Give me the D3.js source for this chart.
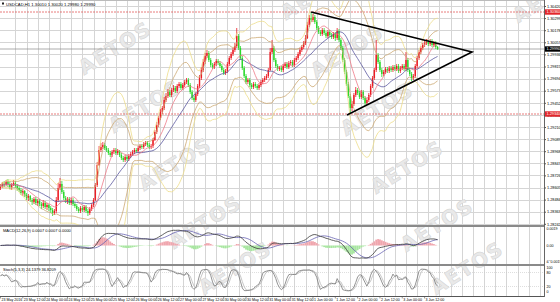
<html>
<head>
<script src="https://cdn.jsdelivr.net/npm/d3@7/dist/d3.min.js"></script>
<style>
  body { margin: 0; background: #ffffff; }
  svg { display: block; }
  text { font-family: "Liberation Sans", Arial, sans-serif; }
</style>
</head>
<body>
<svg id="chart"></svg>
<script>
// USDCAD H1 bars (open of a bar = close of the bar before)
let symbol = "USDCAD,H1"
let firstOpen = 1.2860
let closes = [
  1.2862,1.2864,1.2863,1.2866,1.2864,1.2861,1.2863,1.2865,1.2862,1.2860,
  1.2858,1.2855,1.2857,1.2853,1.2850,1.2852,1.2848,1.2846,1.2849,1.2845,
  1.2847,1.2844,1.2842,1.2845,1.2841,1.2843,1.2840,1.2838,1.2835,1.2837,
  1.2848,1.2860,1.2864,1.2856,1.2850,1.2847,1.2849,1.2845,1.2848,1.2844,
  1.2842,1.2839,1.2837,1.2840,1.2838,1.2841,1.2837,1.2835,1.2839,1.2843,
  1.2848,1.2863,1.2883,1.2898,1.2901,1.2903,1.2900,1.2898,1.2895,1.2893,
  1.2896,1.2898,1.2895,1.2897,1.2893,1.2890,1.2888,1.2891,1.2889,1.2892,
  1.2894,1.2896,1.2898,1.2897,1.2900,1.2902,1.2901,1.2904,1.2905,1.2903,
  1.2901,1.2902,1.2908,1.2916,1.2923,1.2930,1.2936,1.2940,1.2948,1.2952,
  1.2956,1.2953,1.2958,1.2960,1.2957,1.2962,1.2964,1.2960,1.2963,1.2966,
  1.2968,1.2963,1.2956,1.2950,1.2948,1.2954,1.2962,1.2970,1.2978,1.2986,
  1.2992,1.2995,1.2988,1.2983,1.2981,1.2984,1.2987,1.2985,1.2982,1.2978,
  1.2975,1.2977,1.2984,1.2990,1.2994,1.2998,1.3002,1.3012,1.3000,1.2990,
  1.2980,1.2972,1.2966,1.2968,1.2963,1.2961,1.2964,1.2962,1.2960,1.2963,
  1.2966,1.2968,1.2970,1.2972,1.2978,1.2996,1.3000,1.2988,1.2982,1.2979,
  1.2980,1.2978,1.2982,1.2984,1.2981,1.2985,1.2986,1.2983,1.2988,1.2990,
  1.2994,1.2998,1.3001,1.3005,1.3010,1.3023,1.3030,1.3028,1.3031,1.3026,
  1.3020,1.3016,1.3014,1.3018,1.3015,1.3012,1.3016,1.3013,1.3011,1.3014,
  1.3010,1.3017,1.3008,1.3000,1.2988,1.2976,1.2964,1.2952,1.2940,1.2944,
  1.2953,1.2958,1.2955,1.2951,1.2956,1.2950,1.2945,1.2948,1.2953,1.2962,
  1.2970,1.2978,1.2993,1.2986,1.2978,1.2974,1.2976,1.2979,1.2977,1.2980,
  1.2978,1.2981,1.2979,1.2982,1.2977,1.2980,1.2982,1.2979,1.2988,1.2978,
  1.2974,1.2970,1.2972,1.2982,1.2990,1.2996,1.3000,1.3003,1.3005,1.3006,
  1.3004,1.3007,1.3003,1.3005,1.3001,1.2999
]
let highs = [
  1.2864,1.2866,1.2867,1.2868,1.2869,1.2866,1.2865,1.2868,1.2867,1.2864,
  1.2862,1.2860,1.2859,1.2858,1.2855,1.2854,1.2853,1.2850,1.2851,1.2851,
  1.2849,1.2849,1.2846,1.2848,1.2847,1.2845,1.2844,1.2842,1.2840,1.2839,
  1.2851,1.2865,1.2870,1.2867,1.2858,1.2852,1.2851,1.2851,1.2850,1.2850,
  1.2846,1.2844,1.2841,1.2842,1.2842,1.2843,1.2843,1.2839,1.2841,1.2845,
  1.2850,1.2865,1.2886,1.2902,1.2905,1.2906,1.2905,1.2902,1.2900,1.2897,
  1.2898,1.2900,1.2900,1.2899,1.2898,1.2895,1.2892,1.2893,1.2893,1.2894,
  1.2896,1.2898,1.2900,1.2900,1.2902,1.2904,1.2904,1.2906,1.2907,1.2907,
  1.2905,1.2904,1.2910,1.2918,1.2926,1.2932,1.2939,1.2942,1.2951,1.2955,
  1.2959,1.2958,1.2960,1.2963,1.2962,1.2964,1.2966,1.2966,1.2965,1.2968,
  1.2970,1.2970,1.2965,1.2958,1.2952,1.2956,1.2964,1.2973,1.2981,1.2989,
  1.2995,1.2998,1.2997,1.2990,1.2985,1.2986,1.2989,1.2989,1.2987,1.2984,
  1.2980,1.2979,1.2986,1.2992,1.2996,1.3000,1.3005,1.3020,1.3014,1.3002,
  1.2992,1.2982,1.2974,1.2970,1.2970,1.2965,1.2966,1.2966,1.2964,1.2965,
  1.2968,1.2970,1.2972,1.2974,1.2980,1.3000,1.3008,1.3002,1.2990,1.2984,
  1.2982,1.2982,1.2984,1.2986,1.2986,1.2987,1.2988,1.2988,1.2990,1.2992,
  1.2996,1.3000,1.3003,1.3007,1.3013,1.3026,1.3033,1.3036,1.3034,1.3033,
  1.3028,1.3022,1.3018,1.3020,1.3020,1.3017,1.3018,1.3018,1.3015,1.3016,
  1.3016,1.3020,1.3019,1.3010,1.3002,1.2990,1.2978,1.2966,1.2954,1.2947,
  1.2955,1.2961,1.2960,1.2957,1.2958,1.2958,1.2952,1.2950,1.2955,1.2964,
  1.2972,1.2980,1.3008,1.2995,1.2988,1.2980,1.2978,1.2981,1.2981,1.2982,
  1.2982,1.2983,1.2983,1.2984,1.2984,1.2982,1.2984,1.2984,1.2996,1.2990,
  1.2980,1.2976,1.2974,1.2984,1.2992,1.2998,1.3002,1.3005,1.3008,1.3009,
  1.3008,1.3009,1.3009,1.3007,1.3007,1.3002
]
let lows = [
  1.2858,1.2860,1.2861,1.2862,1.2861,1.2859,1.2858,1.2862,1.2860,1.2857,
  1.2856,1.2853,1.2852,1.2851,1.2848,1.2847,1.2846,1.2843,1.2844,1.2843,
  1.2842,1.2842,1.2839,1.2840,1.2839,1.2838,1.2837,1.2835,1.2832,1.2833,
  1.2835,1.2846,1.2858,1.2854,1.2848,1.2845,1.2844,1.2843,1.2843,1.2842,
  1.2840,1.2837,1.2835,1.2835,1.2836,1.2836,1.2835,1.2832,1.2833,1.2837,
  1.2841,1.2847,1.2861,1.2882,1.2896,1.2899,1.2898,1.2896,1.2893,1.2891,
  1.2891,1.2894,1.2893,1.2893,1.2891,1.2888,1.2886,1.2886,1.2887,1.2887,
  1.2890,1.2892,1.2894,1.2895,1.2895,1.2898,1.2899,1.2899,1.2902,1.2901,
  1.2899,1.2899,1.2900,1.2907,1.2914,1.2921,1.2928,1.2934,1.2938,1.2946,
  1.2950,1.2951,1.2951,1.2956,1.2955,1.2955,1.2960,1.2958,1.2958,1.2961,
  1.2964,1.2961,1.2954,1.2948,1.2946,1.2946,1.2952,1.2960,1.2968,1.2976,
  1.2984,1.2990,1.2986,1.2981,1.2979,1.2979,1.2982,1.2983,1.2980,1.2976,
  1.2973,1.2973,1.2975,1.2982,1.2988,1.2992,1.2996,1.3000,1.2998,1.2988,
  1.2978,1.2970,1.2964,1.2964,1.2961,1.2959,1.2959,1.2960,1.2958,1.2958,
  1.2961,1.2964,1.2966,1.2968,1.2970,1.2977,1.2994,1.2986,1.2980,1.2977,
  1.2977,1.2976,1.2976,1.2980,1.2979,1.2979,1.2983,1.2981,1.2981,1.2986,
  1.2988,1.2992,1.2996,1.2999,1.3003,1.3009,1.3021,1.3026,1.3026,1.3024,
  1.3018,1.3014,1.3012,1.3012,1.3013,1.3010,1.3010,1.3011,1.3009,1.3009,
  1.3007,1.3008,1.3006,1.2998,1.2986,1.2974,1.2962,1.2950,1.2935,1.2937,
  1.2942,1.2951,1.2953,1.2949,1.2949,1.2948,1.2942,1.2943,1.2946,1.2951,
  1.2960,1.2968,1.2976,1.2984,1.2976,1.2971,1.2972,1.2974,1.2975,1.2975,
  1.2976,1.2976,1.2977,1.2977,1.2975,1.2975,1.2978,1.2977,1.2977,1.2976,
  1.2972,1.2967,1.2968,1.2970,1.2980,1.2988,1.2994,1.2998,1.3001,1.3003,
  1.3002,1.3002,1.3001,1.3001,1.2999,1.2998
]

let priceTicks = [1.30420, 1.30299, 1.30178, 1.30057, 1.29936, 1.29815, 1.29694, 1.29573, 1.29452,
                  1.29331, 1.29210, 1.29089, 1.28968, 1.28847, 1.28726, 1.28605, 1.28484, 1.28363, 1.28242]
let dateLabels = ["23 May 2016", "23 May 12:00", "24 May 00:00", "24 May 12:00", "25 May 00:00",
                  "25 May 12:00", "26 May 00:00", "26 May 12:00", "27 May 00:00", "27 May 12:00",
                  "30 May 00:00", "30 May 12:00", "31 May 00:00", "31 May 12:00", "1 Jun 00:00",
                  "1 Jun 12:00", "2 Jun 00:00", "2 Jun 12:00", "3 Jun 00:00", "3 Jun 12:00"]
let barsPerLabel = 12
let levelPrices = [1.3036, 1.2934]
// triangle: [start of upper line, apex, start of lower line] as bar index / price
let triangleBars = [167, 253.5, 186.3]
let trianglePrices = [1.3036, 1.2996, 1.2933]
let stochTicks = [100, 80, 20, 0]
let watermarkText = "AETOS"

function sma(values, n) {
    return values.map((v, i) => d3.mean(values.slice(Math.max(0, i - n + 1), i + 1)))
}

function ema(values, n) {
    let a = 2 / (n + 1)
    let out = []
    values.forEach((v, i) => out.push(i === 0 ? v : a * v + (1 - a) * out[i - 1]))
    return out
}

function bollinger(values, n, k) {
    let mid = sma(values, n)
    return values.map((v, i) => {
        let win = values.slice(Math.max(0, i - n + 1), i + 1)
        let sd = Math.sqrt(d3.mean(win, w => (w - mid[i]) * (w - mid[i])))
        return { i, up: mid[i] + k * sd, lo: mid[i] - k * sd }
    })
}

function stochastic(kp, slow, dp) {
    let hh = highs.map((h, i) => d3.max(highs.slice(Math.max(0, i - kp + 1), i + 1)))
    let ll = lows.map((l, i) => d3.min(lows.slice(Math.max(0, i - kp + 1), i + 1)))
    let k = closes.map((c, i) => {
        let from = Math.max(0, i - slow + 1)
        let num = 0, den = 0
        for (let j = from; j <= i; j++) { num += closes[j] - ll[j]; den += hh[j] - ll[j] }
        return den === 0 ? 50 : 100 * num / den
    })
    return { k, d: sma(k, dp) }
}

function getIndicators() {
    let fast = ema(closes, 12)
    let slow = ema(closes, 26)
    let macd = fast.map((v, i) => v - slow[i])
    let signal = sma(macd, 9)
    let osma = macd.map((v, i) => v - signal[i])
    return {
        bbOuter: bollinger(closes, 20, 3),
        bbInner: bollinger(closes, 20, 2),
        maFast: sma(closes, 10),
        maSlow: sma(closes, 21),
        macd, signal, osma,
        stoch: stochastic(5, 3, 3)
    }
}

function getConfig() {
    let width = 560
    let height = 302
    let plotRight = 544
    let container = d3.select("#chart").attr("width", width).attr("height", height)
    return { width, height, plotRight, container }
}

function getScales(ind) {
    let x = d3.scaleLinear().domain([0, 100]).range([0.5, 186.5])
    let y = d3.scaleLinear().domain([1.2822, 1.3047]).range([226, 1])
    let m = d3.max(ind.macd.concat(ind.signal), v => Math.abs(v)) * 1.08
    let yMacd = d3.scaleLinear().domain([-m, m]).range([262, 229])
    let yStoch = d3.scaleLinear().domain([0, 100]).range([291.7, 267.7])
    return { x, y, yMacd, yStoch, macdMax: m }
}

function drawFrame(cfg, sc) {
    let svg = cfg.container
    svg.append("rect").attr("width", cfg.width).attr("height", cfg.height).attr("fill", "#ffffff")

    let defs = svg.append("defs")
    defs.append("clipPath").attr("id", "clipMain").append("rect")
        .attr("x", 0).attr("y", 1).attr("width", cfg.plotRight).attr("height", 224.5)
    defs.append("clipPath").attr("id", "clipMacd").append("rect")
        .attr("x", 0).attr("y", 227).attr("width", cfg.plotRight).attr("height", 37)
    defs.append("clipPath").attr("id", "clipStoch").append("rect")
        .attr("x", 0).attr("y", 266).attr("width", cfg.plotRight).attr("height", 30)
    defs.append("clipPath").attr("id", "clipAll").append("rect")
        .attr("x", 0).attr("y", 0).attr("width", cfg.plotRight).attr("height", 302)

    let grid = svg.append("g").attr("shape-rendering", "crispEdges")
    let gridBars = d3.range(8, 8 + 6 * 48, 6)
    grid.selectAll(".vgrid").data(gridBars).enter().append("line")
        .attr("class", "vgrid")
        .attr("x1", d => Math.round(sc.x(d)) + 0.5).attr("x2", d => Math.round(sc.x(d)) + 0.5)
        .attr("y1", 1).attr("y2", 296)
        .attr("stroke", "#d5d5d5").attr("stroke-width", 1)
    grid.selectAll(".hgrid").data(priceTicks).enter().append("line")
        .attr("class", "hgrid")
        .attr("x1", 0).attr("x2", cfg.plotRight)
        .attr("y1", d => Math.round(sc.y(d)) + 0.5).attr("y2", d => Math.round(sc.y(d)) + 0.5)
        .attr("stroke", "#d5d5d5").attr("stroke-width", 1)
    grid.selectAll(".slevel").data([80, 20]).enter().append("line")
        .attr("x1", 0).attr("x2", cfg.plotRight)
        .attr("y1", d => sc.yStoch(d)).attr("y2", d => sc.yStoch(d))
        .attr("stroke", "#c8c8c8").attr("stroke-width", 0.6).attr("stroke-dasharray", "1,1")
}

function drawWatermarks(cfg) {
    // diagonal lattice of the broker's name over the whole chart window
    let spots = []
    for (let a = -2; a <= 5; a++) {
        for (let b = -1; b <= 2; b++) {
            let cx = 115 + 30 * a + 232 * b
            let cy = 48 + 58 * a + 3 * b
            if (cx < 60 || cx > 560 || cy < -8 || cy > 290) continue
            spots.push([cx, Math.min(cy, 268)])
        }
    }
    let g = cfg.container.append("g").attr("clip-path", "url(#clipAll)")
    g.selectAll(".wm").data(spots).enter().append("text")
        .attr("transform", d => `translate(${d[0]},${d[1]}) rotate(-32)`)
        .attr("text-anchor", "middle").attr("dy", "0.35em")
        .style("font-family", "'DejaVu Sans', sans-serif")
        .style("font-weight", "bold").style("font-size", "20px").style("letter-spacing", "1.5px")
        .attr("fill", "#e9e9e9").attr("stroke", "#d2d2d2").attr("stroke-width", 0.5)
        .text(watermarkText)
}

function drawMain(cfg, sc, ind) {
    let g = cfg.container.append("g").attr("clip-path", "url(#clipMain)")
    let { x, y } = sc

    g.selectAll(".level").data(levelPrices).enter().append("line")
        .attr("x1", 0).attr("x2", cfg.plotRight)
        .attr("y1", d => y(d)).attr("y2", d => y(d))
        .attr("stroke", "#e25a5a").attr("stroke-width", 0.8).attr("stroke-dasharray", "2,1")
    let last = closes[closes.length - 1]
    g.append("line").attr("x1", 0).attr("x2", cfg.plotRight)
        .attr("y1", y(last)).attr("y2", y(last))
        .attr("stroke", "#8a8a8a").attr("stroke-width", 0.7)

    let bars = closes.map((c, i) => ({ i, o: i === 0 ? firstOpen : closes[i - 1], h: highs[i], l: lows[i], c }))
    let up = "#ec1c24", down = "#2bd82b"

    g.selectAll(".wick").data(bars).enter().append("line")
        .attr("class", "wick")
        .attr("x1", d => x(d.i)).attr("x2", d => x(d.i))
        .attr("y1", d => y(d.h)).attr("y2", d => y(d.l))
        .attr("stroke", d => d.c >= d.o ? up : down).attr("stroke-width", 0.8)
    g.selectAll(".body").data(bars).enter().append("rect")
        .attr("class", "body")
        .attr("x", d => x(d.i) - 0.7).attr("width", 1.4)
        .attr("y", d => y(Math.max(d.o, d.c)))
        .attr("height", d => Math.max(0.8, Math.abs(y(d.o) - y(d.c))))
        .attr("fill", d => d.c >= d.o ? up : down)

    let line = d3.line().x(d => x(d.i)).y(d => y(d.v))
    let series = (arr) => arr.map((v, i) => ({ i, v }))
    let bandLines = [
        { data: ind.bbOuter.map(d => ({ i: d.i, v: d.up })), color: "#eedd8a" },
        { data: ind.bbOuter.map(d => ({ i: d.i, v: d.lo })), color: "#eedd8a" },
        { data: ind.bbInner.map(d => ({ i: d.i, v: d.up })), color: "#cdaa74" },
        { data: ind.bbInner.map(d => ({ i: d.i, v: d.lo })), color: "#cdaa74" },
        { data: series(ind.maSlow), color: "#5a58a0" },
        { data: series(ind.maFast), color: "#ee7a88" }
    ]
    g.selectAll(".ind").data(bandLines).enter().append("path")
        .attr("d", d => line(d.data))
        .attr("fill", "none").attr("stroke", d => d.color).attr("stroke-width", 0.8)

    let tri = triangleBars.map((b, k) => [x(b), y(trianglePrices[k])])
    g.append("path")
        .attr("d", d3.line()([tri[0], tri[1], tri[2]]))
        .attr("fill", "none").attr("stroke", "#000000").attr("stroke-width", 1.6)
        .attr("stroke-linejoin", "miter")

    let o = closes[closes.length - 2]
    let hdr = [o, highs[highs.length - 1], lows[lows.length - 1], last].map(v => v.toFixed(5)).join(" ")
    cfg.container.append("rect").attr("x", 2).attr("y", 2.5).attr("width", 2).attr("height", 2).attr("fill", "#222")
    cfg.container.append("text").attr("x", 6).attr("y", 5.5).style("font-size", "4.2px").attr("fill", "#000")
        .text(symbol + "  " + hdr)
}

function drawMacd(cfg, sc, ind) {
    let g = cfg.container.append("g").attr("clip-path", "url(#clipMacd)")
    let { x, yMacd } = sc
    g.selectAll(".hist").data(ind.osma).enter().append("rect")
        .attr("x", (d, i) => x(i) - 0.93).attr("width", 1.86)
        .attr("y", d => Math.min(yMacd(d), yMacd(0)))
        .attr("height", d => Math.abs(yMacd(d) - yMacd(0)))
        .attr("fill", d => d >= 0 ? "#f0a6ae" : "#a8e6a0")
    let line = d3.line().x((d, i) => x(i)).y(d => yMacd(d))
    g.append("path").attr("d", line(ind.signal)).attr("fill", "none").attr("stroke", "#6a64b4").attr("stroke-width", 0.8)
    g.append("path").attr("d", line(ind.macd)).attr("fill", "none").attr("stroke", "#3a3a3a").attr("stroke-width", 0.8)

    let f = d3.format(".4f")
    let n = ind.macd.length - 1
    cfg.container.append("text").attr("x", 3).attr("y", 231.5).style("font-size", "4px").attr("fill", "#000")
        .text("MACD(12,26,9) " + f(ind.macd[n]) + " " + f(ind.signal[n]) + " " + f(ind.osma[n]))
}

function drawStoch(cfg, sc, ind) {
    let g = cfg.container.append("g").attr("clip-path", "url(#clipStoch)")
    let { x, yStoch } = sc
    let line = d3.line().x((d, i) => x(i)).y(d => yStoch(d))
    g.append("path").attr("d", line(ind.stoch.d)).attr("fill", "none").attr("stroke", "#b9b9b9").attr("stroke-width", 0.8)
    g.append("path").attr("d", line(ind.stoch.k)).attr("fill", "none").attr("stroke", "#777777").attr("stroke-width", 0.8)

    let f = d3.format(".4f")
    let n = ind.stoch.k.length - 1
    cfg.container.append("text").attr("x", 3).attr("y", 270.5).style("font-size", "4px").attr("fill", "#000")
        .text("Stoch(5,3,3) " + f(ind.stoch.k[n]) + " " + f(ind.stoch.d[n]))
}

function drawAxes(cfg, sc, ind) {
    let svg = cfg.container
    let pr = cfg.plotRight
    let axis = svg.append("g").attr("shape-rendering", "crispEdges")

    // panel separators and borders
    axis.append("rect").attr("x", 0).attr("y", 225).attr("width", pr).attr("height", 2).attr("fill", "#8a8a8a")
    axis.append("rect").attr("x", 0).attr("y", 264).attr("width", pr).attr("height", 2).attr("fill", "#8a8a8a")
    axis.append("line").attr("x1", 0).attr("x2", pr + 1).attr("y1", 296.5).attr("y2", 296.5).attr("stroke", "#555")
    axis.append("line").attr("x1", pr + 0.5).attr("x2", pr + 0.5).attr("y1", 0).attr("y2", 297).attr("stroke", "#666")
    axis.append("line").attr("x1", 0).attr("x2", pr).attr("y1", 0.5).attr("y2", 0.5).attr("stroke", "#bbb")

    // price scale
    let priceAxis = d3.axisRight(sc.y).tickValues(priceTicks).tickFormat(d => d.toFixed(5)).tickSize(2).tickPadding(1)
    let pa = svg.append("g").attr("transform", `translate(${pr},0)`).call(priceAxis)
    pa.select(".domain").remove()
    pa.selectAll("text").style("font-size", "3.8px").style("font-family", "'Liberation Sans', Arial, sans-serif").attr("fill", "#000")
    pa.selectAll("line").attr("stroke", "#555")

    // tags on the price scale
    let tags = levelPrices.map(p => ({ p, fill: "#e3262b" }))
    tags.push({ p: closes[closes.length - 1], fill: "#000000" })
    let tg = svg.selectAll(".tag").data(tags).enter().append("g")
        .attr("transform", d => `translate(${pr + 1},${sc.y(d.p)})`)
    tg.append("rect").attr("x", 0).attr("y", -2.7).attr("width", 15).attr("height", 5.4).attr("fill", d => d.fill)
    tg.append("text").attr("x", 1.5).attr("y", 1.4).style("font-size", "3.8px").attr("fill", "#fff")
        .text(d => d.p.toFixed(5))

    // MACD scale
    let f = d3.format(".4f")
    let macdTicks = [sc.macdMax, 0, -sc.macdMax]
    svg.selectAll(".mtick").data(macdTicks).enter().append("text")
        .attr("x", pr + 2.5).attr("y", d => Math.min(263, Math.max(230, sc.yMacd(d) + 1.4)))
        .style("font-size", "3.6px").attr("fill", "#000")
        .text(d => d === 0 ? "0.00" : f(d))

    // Stochastic scale
    svg.selectAll(".stick").data(stochTicks).enter().append("text")
        .attr("x", pr + 2.5).attr("y", d => sc.yStoch(d) + 1.3)
        .style("font-size", "3.6px").attr("fill", "#000")
        .text(d => d)

    // time scale
    let labels = dateLabels.map((t, k) => ({ t, b: k * barsPerLabel }))
    svg.selectAll(".dtick").data(labels).enter().append("line")
        .attr("x1", d => sc.x(d.b)).attr("x2", d => sc.x(d.b))
        .attr("y1", 296.5).attr("y2", 298.5).attr("stroke", "#555").attr("stroke-width", 0.6)
    svg.selectAll(".dlabel").data(labels).enter().append("text")
        .attr("x", d => sc.x(d.b) + 1).attr("y", 300.6)
        .style("font-size", "3.6px").attr("fill", "#000")
        .text(d => d.t)
}

function showChart() {
    let ind = getIndicators()
    let cfg = getConfig()
    let sc = getScales(ind)
    drawFrame(cfg, sc)
    drawWatermarks(cfg)
    drawMain(cfg, sc, ind)
    drawMacd(cfg, sc, ind)
    drawStoch(cfg, sc, ind)
    drawAxes(cfg, sc, ind)
}

showChart()
</script>
</body>
</html>
